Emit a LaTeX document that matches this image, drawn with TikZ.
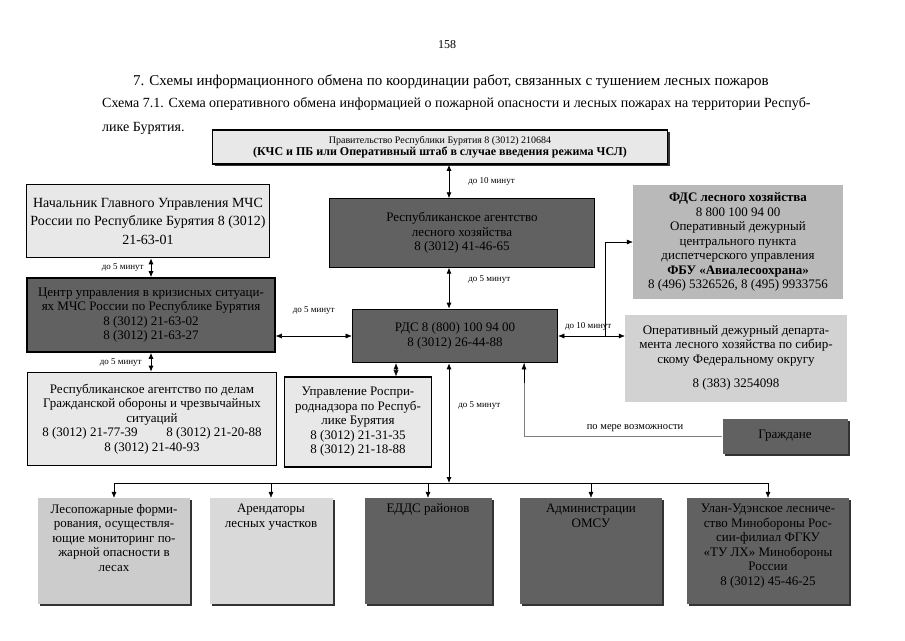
\documentclass[tikz,border=0pt]{standalone}
\usepackage{fontspec}
\setmainfont{Liberation Serif}
\usetikzlibrary{arrows.meta,shadows}

\begin{document}
\begin{tikzpicture}[x=1pt,y=-1pt,>={Latex[length=6pt,width=5pt]},
  box/.style={align=center,inner sep=2pt,font=\fontsize{13}{14.5}\selectfont},
  lite/.style={box,fill=gray!18,draw,line width=1.6pt},
  dark/.style={box,fill=black!62,draw,line width=1.6pt},
  flat/.style={box,fill=#1,drop shadow={shadow xshift=2pt,shadow yshift=-2pt,fill=black!80,opacity=1}},
  head/.style={inner sep=0pt,font=\fontsize{15}{17}\selectfont},
  lbl/.style={inner sep=1pt,font=\fontsize{9}{10}\selectfont}]
\useasboundingbox (0,0) rectangle (905,640);

\node[inner sep=0pt,font=\fontsize{12}{14}\selectfont] (pg) at (447,45) {158};
\node[head] (t1) at (451,82) {7. Схемы информационного обмена по координации работ, связанных с тушением лесных пожаров};
\node[head,anchor=west,font=\fontsize{14}{16}\selectfont] (t2) at (102,104) {Схема 7.1. Схема оперативного обмена информацией о пожарной опасности и лесных пожарах на территории Респуб-};
\node[head,anchor=west,font=\fontsize{14}{16}\selectfont] (t3) at (102,128) {лике Бурятия.};

\node[lite,minimum width=455,minimum height=34,font=\fontsize{10}{12.5}\selectfont,
  drop shadow={shadow xshift=2pt,shadow yshift=-2pt,fill=black!80,opacity=1}] (gov) at (440,147)
  {Правительство Республики Бурятия 8 (3012) 210684\\{\fontsize{12}{12.5}\selectfont\bfseries(КЧС и ПБ или Оперативный штаб в случае введения режима ЧСЛ)}};
\node[lite,minimum width=243,minimum height=73,font=\fontsize{14}{18.5}\selectfont] (nach) at (148,221)
  {Начальник Главного Управления МЧС\\России по Республике Бурятия 8 (3012)\\21-63-01};
\node[dark,minimum width=248,minimum height=74] (cuks) at (151,315)
  {Центр управления в кризисных ситуаци-\\ях МЧС России по Республике Бурятия\\8 (3012) 21-63-02\\8 (3012) 21-63-27};
\node[lite,minimum width=249,minimum height=93] (agcd) at (152,419)
  {Республиканское агентство по делам\\Гражданской обороны и чрезвычайных\\ситуаций\\8 (3012) 21-77-39\hspace{2.2em}8 (3012) 21-20-88\\8 (3012) 21-40-93};
\node[lite,minimum width=147,minimum height=90] (rpn) at (358,422)
  {Управление Роспри-\\роднадзора по Респуб-\\лике Бурятия\\8 (3012) 21-31-35\\8 (3012) 21-18-88};
\node[box,fill=black!62,draw,minimum width=265,minimum height=69] (agency) at (462,233)
  {Республиканское агентство\\лесного хозяйства\\8 (3012) 41-46-65};
\node[dark,minimum width=205,minimum height=53] (rds) at (455,336)
  {РДС 8 (800) 100 94 00\\8 (3012) 26-44-88};
\node[box,fill=gray!55,minimum width=210,minimum height=114] (fds) at (738,242)
  {\textbf{ФДС лесного хозяйства}\\8 800 100 94 00\\Оперативный дежурный\\центрального пункта\\диспетчерского управления\\\textbf{ФБУ «Авиалесоохрана»}\\8 (496) 5326526, 8 (495) 9933756};
\node[box,fill=gray!35,minimum width=222,minimum height=87] (oper) at (736,358)
  {Оперативный дежурный департа-\\мента лесного хозяйства по сибир-\\скому Федеральному округу\\[10pt]8 (383) 3254098};
\node[flat=black!62,minimum width=125,minimum height=35] (cit) at (785,436) {Граждане};

\foreach \n/\x/\w/\c/\t in {
  les/114/152/gray!40/{Лесопожарные форми-\\рования, осуществля-\\ющие мониторинг по-\\жарной опасности в\\лесах},
  arend/271/123/gray!30/{Арендаторы\\лесных участков},
  edds/428/127/black!62/{ЕДДС районов},
  adm/591/142/black!62/{Администрации\\ОМСУ},
  uu/768/162/black!62/{Улан-Удэнское лесниче-\\ство Минобороны Рос-\\сии-филиал ФГКУ\\«ТУ ЛХ» Минобороны\\России\\8 (3012) 45-46-25}}
{
  \node[flat=\c,minimum width=\w,minimum height=106] (\n) at (\x,551) {};
  \node[box,anchor=north] (\n-t) at ([yshift=-4pt]\n.north) {\t};
}

\coordinate (spine) at (449,0);
\coordinate (fork) at (605,0);
\coordinate (bus) at (0,483);

\draw[<->,thick] (gov.south -| spine) -- (agency.north -| spine) node[lbl,midway,right=18pt] {до 10 минут};
\draw[<->,thick] (agency.south -| spine) -- (rds.north -| spine) node[lbl,pos=0.3,right=18pt] {до 5 минут};
\draw[<->,thick] (nach.south -| cuks) -- (cuks.north) node[lbl,midway,left=6pt] {до 5 минут};
\draw[<->,thick] (cuks.south) -- (cuks.south |- agcd.north) node[lbl,midway,left=8pt] {до 5 минут};
\draw[<->] (cuks.east |- rds.west) -- (rds.west) node[lbl,midway,above=20pt] {до 5 минут};
\draw[<->] (rds.east) -- (rds.east -| oper.west) node[lbl,pos=0.45,above=4pt] {до 10 минут};
\draw[->] (rds.east -| fork) |- (fds.west);
\draw[<->] ([xshift=38pt]rpn.north) -- ([xshift=38pt]rpn.north |- rds.south);
\draw[<->,thick] (rds.south -| spine) -- (bus -| spine) node[lbl,pos=0.35,right=8pt] {до 5 минут};
\draw[gray] (cit.west) -| ([xshift=69pt]rds.south) node[lbl,black,pos=0.22,above=3pt,font=\fontsize{10.5}{11}\selectfont] {по мере возможности};
\draw[->] ([xshift=69pt,yshift=-20pt]rds.south) -- ([xshift=69pt]rds.south);
\draw (bus -| les) -- (bus -| uu);
\foreach \n in {les,arend,edds,adm,uu}
  \draw[->] (bus -| \n) -- (\n.north);
\end{tikzpicture}
\end{document}
